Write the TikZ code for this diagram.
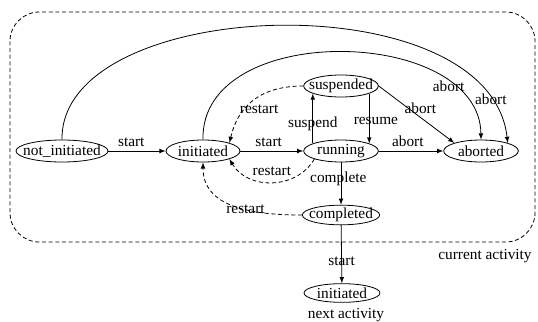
\documentclass[tikz,border=0pt]{standalone}
\usepackage{fontspec}
\setmainfont{Liberation Serif}
\newfontfamily\diagramfont{Liberation Serif}
\usetikzlibrary{shapes.geometric}

% text of a state does not widen its ellipse
\newcommand{\statename}[1]{\makebox[0pt]{#1}}

\begin{document}
\begin{tikzpicture}[>=latex, x=0.75pt, y=-0.75pt, line width=0.6pt,
		font=\diagramfont\fontsize{11.5pt}{13pt}\selectfont,
		state/.style={draw, ellipse, inner sep=0pt, minimum width=#1, minimum height=16.5pt},
		restartline/.style={->, densely dashed}]

		\useasboundingbox (0,0) rectangle (538,321);

		% area of the current activity
		\draw[densely dashed, rounded corners=22pt] (10,12) rectangle (535,242);
		\node (curact) at (485,256) {current activity};

		% states
		\node[state=69pt] (notinit) at (62,151) {\statename{not\_initiated}};
		\node[state=55.5pt] (init) at (203,151) {\statename{initiated}};
		\node[state=56pt] (run) at (341,151) {\statename{running}};
		\node[state=56pt] (susp) at (341,86) {\statename{suspended}};
		\node[state=56pt] (abrt) at (481,151) {\statename{aborted}};
		\node[state=58pt, minimum height=14pt] (comp) at (341,215) {\statename{completed}};
		\node[state=57pt, minimum height=14pt] (next) at (342,293) {\statename{initiated}};
		\node (nextact) at (346,315) {next activity};

		% transitions
		\draw[->] (notinit) -- (init) node[above, pos=0.4] {start};
		\draw[->] (init) -- (run) node[above, pos=0.45] {start};
		\draw[->] (run.165) -- (susp.195) node[pos=0.4] {suspend};
		\draw[->] (susp.-15) -- (run.15) node[pos=0.55, xshift=5pt] {resume};
		\draw[->] (run) -- (abrt) node[above, pos=0.45] {abort};
		\draw[->] (susp.east) -- (abrt.north west) node[above=-1pt, pos=0.55] {abort};
		\draw[->] (run) -- (comp) node[pos=0.38, xshift=-2pt] {complete};
		\draw[->] (comp) -- (next) node[pos=0.62] {start};

		\draw[->] (init.north) .. controls (200,20) and (480,26) .. (abrt.north) node[pos=0.79, yshift=-3pt] {abort};
		\draw[->] (notinit.north) .. controls (60,-5) and (490,-20) .. (abrt.north east) node[pos=0.9] {abort};

		\draw[restartline] (susp.west) .. controls +(-45,0) and +(8,-35) .. (init.north east) node[midway, below=-1pt, xshift=5pt] {restart};
		\draw[restartline] (run.south west) .. controls +(-18,31) and +(18,31) .. (init.south east) node[midway, above=1pt] {restart};
		\draw[restartline] (comp.west) .. controls +(-50,0) and +(0,45) .. (init.south) node[pos=0.4] {restart};
	\end{tikzpicture}
\end{document}
